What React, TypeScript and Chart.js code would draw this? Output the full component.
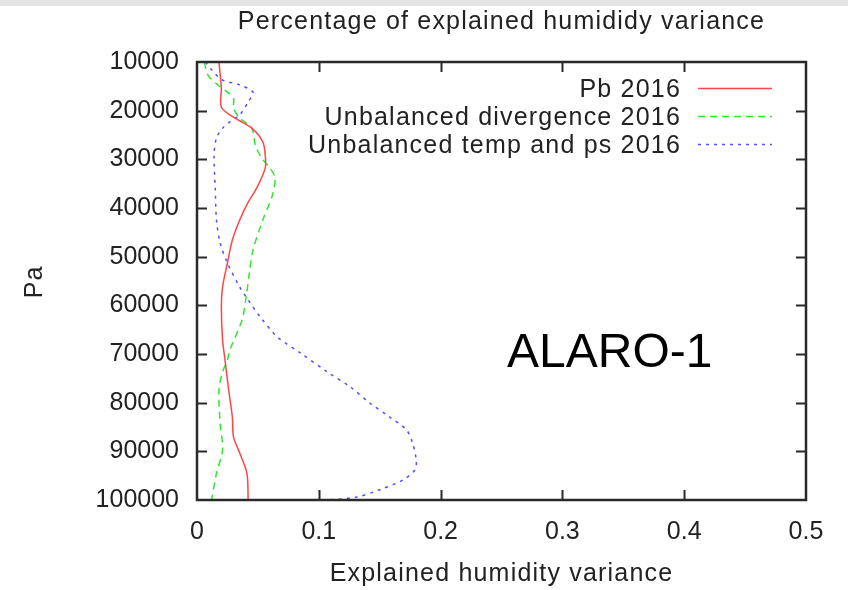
import { useEffect, useRef } from "react";
import { Chart, registerables } from "chart.js";

Chart.register(...registerables);

// Text
const chartTitle = "Percentage of explained humididy variance";
const xAxisTitle = "Explained humidity variance";
const yAxisTitle = "Pa";
const panelLabel = "ALARO-1";
const seriesNames = ["Pb 2016", "Unbalanced divergence 2016", "Unbalanced temp and ps 2016"];

// Axis ranges / ticks
const xTickValues = [0, 0.1, 0.2, 0.3, 0.4, 0.5];
const yTickValues = [10000, 20000, 30000, 40000, 50000, 60000, 70000, 80000, 90000, 100000];

// Pb 2016
const pbLevels = [10000, 15300, 19300, 21500, 23600, 26400, 29100, 31800, 35900, 38800, 42500, 46600, 51300, 56200, 60300, 67100, 71200, 77400, 82900, 87100, 90300, 94500, 100000];
const pbValues = [0.018, 0.020, 0.020, 0.031, 0.045, 0.054, 0.056, 0.056, 0.049, 0.042, 0.035, 0.029, 0.025, 0.021, 0.020, 0.021, 0.023, 0.026, 0.029, 0.030, 0.035, 0.041, 0.042];

// Unbalanced divergence 2016
const divLevels = [10000, 12700, 14700, 16200, 17400, 19500, 21500, 23600, 27100, 29700, 31800, 33800, 37300, 42500, 48600, 53400, 58900, 63000, 69200, 71200, 73700, 77400, 84200, 89700, 94500, 100000];
const divValues = [0.006, 0.009, 0.017, 0.025, 0.030, 0.030, 0.035, 0.045, 0.048, 0.053, 0.060, 0.064, 0.062, 0.054, 0.046, 0.043, 0.040, 0.037, 0.027, 0.025, 0.021, 0.018, 0.019, 0.021, 0.016, 0.012];

// Unbalanced temp and ps 2016
const tpsLevels = [10000, 11600, 13700, 14700, 16200, 18200, 20900, 22300, 23600, 25600, 29100, 35900, 42500, 47200, 51300, 56200, 58900, 62400, 66500, 69800, 73700, 76800, 80100, 82900, 85600, 88300, 91800, 93800, 95900, 97900, 99400, 100000];
const tpsValues = [0.007, 0.012, 0.021, 0.035, 0.046, 0.042, 0.035, 0.027, 0.021, 0.016, 0.014, 0.015, 0.016, 0.019, 0.025, 0.035, 0.042, 0.052, 0.066, 0.085, 0.107, 0.126, 0.142, 0.158, 0.172, 0.177, 0.180, 0.179, 0.169, 0.150, 0.131, 0.108];

const seriesColors = ["rgb(255,70,70)", "rgb(50,230,50)", "rgb(80,80,255)"];
const seriesDashes: number[][] = [[], [7, 5], [3, 5]];

const FONT = '"Liberation Sans", Arial, Helvetica, sans-serif';
const INK = "#222";

function toPoints(levels: number[], values: number[]) {
  return levels.map((p, i) => ({ x: values[i], y: p }));
}

function drawText(
  ctx: CanvasRenderingContext2D,
  s: string,
  x: number,
  y: number,
  align: CanvasTextAlign,
  size: number,
  spacing: number,
  color: string = INK
) {
  ctx.save();
  ctx.font = `${size}px ${FONT}`;
  (ctx as any).letterSpacing = `${spacing}px`;
  ctx.textAlign = align;
  ctx.textBaseline = "alphabetic";
  ctx.fillStyle = color;
  ctx.fillText(s, x, y);
  ctx.restore();
}

const frame = {
  id: "frame",
  beforeDraw(chart: any) {
    const ctx: CanvasRenderingContext2D = chart.ctx;
    ctx.save();
    ctx.fillStyle = "#ffffff";
    ctx.fillRect(0, 0, chart.width, chart.height);
    ctx.fillStyle = "#e4e4e4";
    ctx.fillRect(0, 0, chart.width, 6);
    ctx.restore();
  },
  afterDraw(chart: any) {
    const ctx: CanvasRenderingContext2D = chart.ctx;
    const { left, right, top, bottom } = chart.chartArea;
    const xs = chart.scales.x;
    const ys = chart.scales.y;

    ctx.save();
    ctx.strokeStyle = "#2a2a2a";
    ctx.lineWidth = 2;
    // inward tick marks on all four sides
    ctx.beginPath();
    xTickValues.slice(1, -1).forEach((v) => {
      const px = Math.round(xs.getPixelForValue(v)) + 0.5;
      ctx.moveTo(px, bottom);
      ctx.lineTo(px, bottom - 10);
      ctx.moveTo(px, top);
      ctx.lineTo(px, top + 10);
    });
    yTickValues.slice(1, -1).forEach((v) => {
      const py = Math.round(ys.getPixelForValue(v)) + 0.5;
      ctx.moveTo(left, py);
      ctx.lineTo(left + 10, py);
      ctx.moveTo(right, py);
      ctx.lineTo(right - 10, py);
    });
    ctx.stroke();
    // plot border
    ctx.lineWidth = 2.5;
    ctx.strokeRect(left, top, right - left, bottom - top);
    ctx.restore();

    const cx = (left + right) / 2;
    drawText(ctx, chartTitle, cx, 29, "center", 25, 1.2);
    drawText(ctx, xAxisTitle, cx, 581, "center", 25, 1.2);

    ctx.save();
    ctx.translate(42, (top + bottom) / 2 + 1);
    ctx.rotate(-Math.PI / 2);
    drawText(ctx, yAxisTitle, 0, 0, "center", 25, 1);
    ctx.restore();

    // legend: right-aligned labels with line samples to their right
    const rowBase = [97, 125, 153];
    seriesNames.forEach((name, i) => {
      drawText(ctx, name, 681, rowBase[i], "right", 25, 1.2);
      ctx.save();
      ctx.strokeStyle = seriesColors[i];
      ctx.lineWidth = 1.5;
      ctx.setLineDash(seriesDashes[i]);
      ctx.beginPath();
      const ly = rowBase[i] - 8.5;
      ctx.moveTo(698, ly);
      ctx.lineTo(772, ly);
      ctx.stroke();
      ctx.restore();
    });

    drawText(ctx, panelLabel, 507, 367, "left", 48, 0, "#000");
  },
};

export default function App() {
  const canvasRef = useRef<HTMLCanvasElement | null>(null);

  useEffect(() => {
    const canvas = canvasRef.current;
    if (!canvas) return;
    const seriesData = [
      toPoints(pbLevels, pbValues),
      toPoints(divLevels, divValues),
      toPoints(tpsLevels, tpsValues),
    ];
    const chart = new Chart(canvas, {
      type: "scatter",
      data: {
        datasets: seriesNames.map((name, i) => ({
          label: name,
          data: seriesData[i],
          showLine: true,
          borderColor: seriesColors[i],
          backgroundColor: seriesColors[i],
          borderWidth: 1.5,
          borderDash: seriesDashes[i],
          pointRadius: 0,
          pointHoverRadius: 0,
          tension: 0.3,
          fill: false,
        })),
      },
      options: {
        animation: false,
        responsive: true,
        maintainAspectRatio: false,
        events: [],
        layout: { padding: { top: 62, right: 42, bottom: 0, left: 0 } },
        plugins: {
          legend: { display: false },
          title: { display: false },
          tooltip: { enabled: false },
        },
        scales: {
          x: {
            type: "linear",
            min: 0,
            max: 0.5,
            afterFit: (s: any) => {
              s.height = 90;
            },
            afterBuildTicks: (s: any) => {
              s.ticks = xTickValues.map((v) => ({ value: v }));
            },
            grid: { display: false, drawTicks: false },
            border: { display: false },
            ticks: {
              padding: 17,
              color: INK,
              font: { family: FONT, size: 25 },
              callback: (v: any) => String(Math.round(Number(v) * 10) / 10),
            },
          },
          y: {
            type: "linear",
            reverse: true,
            min: 10000,
            max: 100000,
            afterFit: (s: any) => {
              s.width = 197;
            },
            afterBuildTicks: (s: any) => {
              s.ticks = yTickValues.map((v) => ({ value: v }));
            },
            grid: { display: false, drawTicks: false },
            border: { display: false },
            ticks: {
              padding: 18,
              color: INK,
              font: { family: FONT, size: 25 },
              callback: (v: any) => String(v),
            },
          },
        },
      },
      plugins: [frame],
    });
    return () => chart.destroy();
  }, []);

  return (
    <div style={{ position: "fixed", left: 0, top: 0, width: 848, height: 590, background: "#fff" }}>
      <canvas ref={canvasRef} />
    </div>
  );
}
